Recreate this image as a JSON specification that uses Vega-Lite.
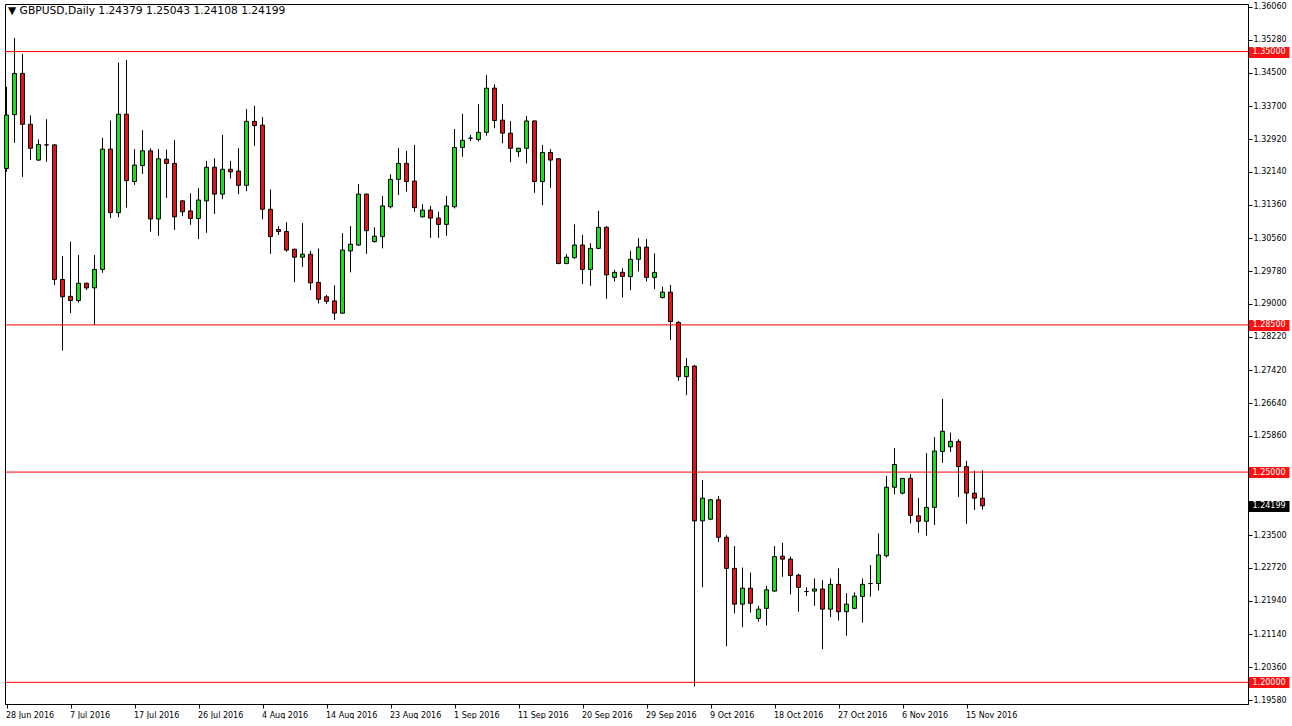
{
  "$schema": "https://vega.github.io/schema/vega-lite/v6.json",
  "width": 1243,
  "height": 700,
  "padding": {"left": 4, "top": 2, "right": 0, "bottom": 0},
  "background": "white",
  "config": {
    "view": {"stroke": "black", "strokeWidth": 1},
    "font": "DejaVu Sans",
    "axis": {"labelOverlap": false, "labelFlush": false, "grid": false, "title": null, "domainColor": "black", "labelFont": "DejaVu Sans", "labelFontSize": 8},
    "axisY": {"labelOverlap": false},
    "axisQuantitative": {"labelOverlap": false}
  },
  "title": {"text": "▼ GBPUSD,Daily  1.24379 1.25043 1.24108 1.24199", "anchor": "start", "frame": "group", "offset": -14, "dx": 3, "fontSize": 10.7, "fontWeight": "normal", "font": "DejaVu Sans", "color": "black"},
  "datasets": {
    "candles": [
      {"date": "28 Jun 2016", "open": 1.3222, "high": 1.3416, "low": 1.3214, "close": 1.3349},
      {"date": "29 Jun 2016", "open": 1.3350, "high": 1.3532, "low": 1.3283, "close": 1.3448},
      {"date": "30 Jun 2016", "open": 1.3448, "high": 1.3494, "low": 1.3202, "close": 1.3327},
      {"date": "1 Jul 2016", "open": 1.3327, "high": 1.3348, "low": 1.3242, "close": 1.3270},
      {"date": "3 Jul 2016", "open": 1.3242, "high": 1.3291, "low": 1.3240, "close": 1.3279},
      {"date": "4 Jul 2016", "open": 1.3278, "high": 1.3339, "low": 1.3238, "close": 1.3278},
      {"date": "5 Jul 2016", "open": 1.3278, "high": 1.3280, "low": 1.2945, "close": 1.2958},
      {"date": "6 Jul 2016", "open": 1.2958, "high": 1.3014, "low": 1.2789, "close": 1.2917},
      {"date": "7 Jul 2016", "open": 1.2918, "high": 1.3048, "low": 1.2878, "close": 1.2908},
      {"date": "8 Jul 2016", "open": 1.2908, "high": 1.3016, "low": 1.2903, "close": 1.2949},
      {"date": "10 Jul 2016", "open": 1.2949, "high": 1.2951, "low": 1.2933, "close": 1.2938},
      {"date": "11 Jul 2016", "open": 1.2938, "high": 1.3016, "low": 1.2850, "close": 1.2982},
      {"date": "12 Jul 2016", "open": 1.2982, "high": 1.3295, "low": 1.2974, "close": 1.3268},
      {"date": "13 Jul 2016", "open": 1.3268, "high": 1.3336, "low": 1.3104, "close": 1.3117},
      {"date": "14 Jul 2016", "open": 1.3117, "high": 1.3474, "low": 1.3106, "close": 1.3351},
      {"date": "15 Jul 2016", "open": 1.3351, "high": 1.3480, "low": 1.3129, "close": 1.3193},
      {"date": "17 Jul 2016", "open": 1.3191, "high": 1.3268, "low": 1.3183, "close": 1.3230},
      {"date": "18 Jul 2016", "open": 1.3229, "high": 1.3313, "low": 1.3209, "close": 1.3264},
      {"date": "19 Jul 2016", "open": 1.3264, "high": 1.3270, "low": 1.3072, "close": 1.3102},
      {"date": "20 Jul 2016", "open": 1.3102, "high": 1.3268, "low": 1.3062, "close": 1.3245},
      {"date": "21 Jul 2016", "open": 1.3244, "high": 1.3267, "low": 1.3152, "close": 1.3234},
      {"date": "22 Jul 2016", "open": 1.3234, "high": 1.3290, "low": 1.3076, "close": 1.3107},
      {"date": "24 Jul 2016", "open": 1.3145, "high": 1.3147, "low": 1.3109, "close": 1.3119},
      {"date": "25 Jul 2016", "open": 1.3121, "high": 1.3163, "low": 1.3088, "close": 1.3103},
      {"date": "26 Jul 2016", "open": 1.3103, "high": 1.3175, "low": 1.3054, "close": 1.3147},
      {"date": "27 Jul 2016", "open": 1.3145, "high": 1.3240, "low": 1.3069, "close": 1.3225},
      {"date": "28 Jul 2016", "open": 1.3225, "high": 1.3246, "low": 1.3114, "close": 1.3161},
      {"date": "29 Jul 2016", "open": 1.3161, "high": 1.3302, "low": 1.3149, "close": 1.3220},
      {"date": "31 Jul 2016", "open": 1.3220, "high": 1.3240, "low": 1.3198, "close": 1.3214},
      {"date": "1 Aug 2016", "open": 1.3216, "high": 1.3270, "low": 1.3161, "close": 1.3182},
      {"date": "2 Aug 2016", "open": 1.3182, "high": 1.3363, "low": 1.3168, "close": 1.3334},
      {"date": "3 Aug 2016", "open": 1.3334, "high": 1.3371, "low": 1.3276, "close": 1.3324},
      {"date": "4 Aug 2016", "open": 1.3325, "high": 1.3344, "low": 1.3101, "close": 1.3125},
      {"date": "5 Aug 2016", "open": 1.3125, "high": 1.3172, "low": 1.3019, "close": 1.3060},
      {"date": "7 Aug 2016", "open": 1.3077, "high": 1.3085, "low": 1.3064, "close": 1.3072},
      {"date": "8 Aug 2016", "open": 1.3072, "high": 1.3094, "low": 1.3024, "close": 1.3028},
      {"date": "9 Aug 2016", "open": 1.3030, "high": 1.3031, "low": 1.2952, "close": 1.3011},
      {"date": "10 Aug 2016", "open": 1.3011, "high": 1.3092, "low": 1.2988, "close": 1.3018},
      {"date": "11 Aug 2016", "open": 1.3018, "high": 1.3026, "low": 1.2933, "close": 1.2950},
      {"date": "12 Aug 2016", "open": 1.2951, "high": 1.3032, "low": 1.2901, "close": 1.2911},
      {"date": "14 Aug 2016", "open": 1.2917, "high": 1.2921, "low": 1.2900, "close": 1.2906},
      {"date": "15 Aug 2016", "open": 1.2907, "high": 1.2944, "low": 1.2862, "close": 1.2878},
      {"date": "16 Aug 2016", "open": 1.2878, "high": 1.3068, "low": 1.2876, "close": 1.3028},
      {"date": "17 Aug 2016", "open": 1.3026, "high": 1.3085, "low": 1.2975, "close": 1.3042},
      {"date": "18 Aug 2016", "open": 1.3040, "high": 1.3185, "low": 1.3038, "close": 1.3161},
      {"date": "19 Aug 2016", "open": 1.3161, "high": 1.3162, "low": 1.3019, "close": 1.3074},
      {"date": "21 Aug 2016", "open": 1.3048, "high": 1.3082, "low": 1.3046, "close": 1.3061},
      {"date": "22 Aug 2016", "open": 1.3060, "high": 1.3157, "low": 1.3032, "close": 1.3133},
      {"date": "23 Aug 2016", "open": 1.3131, "high": 1.3208, "low": 1.3127, "close": 1.3196},
      {"date": "24 Aug 2016", "open": 1.3196, "high": 1.3271, "low": 1.3159, "close": 1.3234},
      {"date": "25 Aug 2016", "open": 1.3234, "high": 1.3264, "low": 1.3167, "close": 1.3191},
      {"date": "26 Aug 2016", "open": 1.3192, "high": 1.3278, "low": 1.3119, "close": 1.3129},
      {"date": "28 Aug 2016", "open": 1.3107, "high": 1.3137, "low": 1.3105, "close": 1.3123},
      {"date": "29 Aug 2016", "open": 1.3123, "high": 1.3133, "low": 1.3057, "close": 1.3104},
      {"date": "30 Aug 2016", "open": 1.3104, "high": 1.3119, "low": 1.3057, "close": 1.3089},
      {"date": "31 Aug 2016", "open": 1.3089, "high": 1.3157, "low": 1.3062, "close": 1.3133},
      {"date": "1 Sep 2016", "open": 1.3131, "high": 1.3316, "low": 1.3127, "close": 1.3272},
      {"date": "2 Sep 2016", "open": 1.3272, "high": 1.3352, "low": 1.3250, "close": 1.3289},
      {"date": "4 Sep 2016", "open": 1.3294, "high": 1.3302, "low": 1.3287, "close": 1.3294},
      {"date": "5 Sep 2016", "open": 1.3291, "high": 1.3375, "low": 1.3286, "close": 1.3308},
      {"date": "6 Sep 2016", "open": 1.3308, "high": 1.3444, "low": 1.3300, "close": 1.3413},
      {"date": "7 Sep 2016", "open": 1.3413, "high": 1.3422, "low": 1.3318, "close": 1.3336},
      {"date": "8 Sep 2016", "open": 1.3337, "high": 1.3375, "low": 1.3282, "close": 1.3306},
      {"date": "9 Sep 2016", "open": 1.3306, "high": 1.3335, "low": 1.3237, "close": 1.3270},
      {"date": "11 Sep 2016", "open": 1.3262, "high": 1.3271, "low": 1.3250, "close": 1.3270},
      {"date": "12 Sep 2016", "open": 1.3270, "high": 1.3347, "low": 1.3234, "close": 1.3335},
      {"date": "13 Sep 2016", "open": 1.3335, "high": 1.3336, "low": 1.3164, "close": 1.3191},
      {"date": "14 Sep 2016", "open": 1.3191, "high": 1.3278, "low": 1.3135, "close": 1.3260},
      {"date": "15 Sep 2016", "open": 1.3260, "high": 1.3268, "low": 1.3176, "close": 1.3242},
      {"date": "16 Sep 2016", "open": 1.3245, "high": 1.3246, "low": 1.2994, "close": 1.2996},
      {"date": "18 Sep 2016", "open": 1.2996, "high": 1.3018, "low": 1.2994, "close": 1.3011},
      {"date": "19 Sep 2016", "open": 1.3010, "high": 1.3089, "low": 1.3007, "close": 1.3040},
      {"date": "20 Sep 2016", "open": 1.3040, "high": 1.3064, "low": 1.2947, "close": 1.2982},
      {"date": "21 Sep 2016", "open": 1.2982, "high": 1.3044, "low": 1.2943, "close": 1.3032},
      {"date": "22 Sep 2016", "open": 1.3032, "high": 1.3121, "low": 1.3030, "close": 1.3082},
      {"date": "23 Sep 2016", "open": 1.3082, "high": 1.3085, "low": 1.2912, "close": 1.2969},
      {"date": "25 Sep 2016", "open": 1.2963, "high": 1.2981, "low": 1.2953, "close": 1.2975},
      {"date": "26 Sep 2016", "open": 1.2975, "high": 1.2985, "low": 1.2915, "close": 1.2965},
      {"date": "27 Sep 2016", "open": 1.2965, "high": 1.3026, "low": 1.2933, "close": 1.3006},
      {"date": "28 Sep 2016", "open": 1.3006, "high": 1.3056, "low": 1.2977, "close": 1.3035},
      {"date": "29 Sep 2016", "open": 1.3035, "high": 1.3054, "low": 1.2953, "close": 1.2963},
      {"date": "30 Sep 2016", "open": 1.2963, "high": 1.3020, "low": 1.2935, "close": 1.2975},
      {"date": "2 Oct 2016", "open": 1.2915, "high": 1.2941, "low": 1.2913, "close": 1.2928},
      {"date": "3 Oct 2016", "open": 1.2928, "high": 1.2945, "low": 1.2814, "close": 1.2858},
      {"date": "4 Oct 2016", "open": 1.2856, "high": 1.2859, "low": 1.2717, "close": 1.2727},
      {"date": "5 Oct 2016", "open": 1.2727, "high": 1.2771, "low": 1.2683, "close": 1.2751},
      {"date": "6 Oct 2016", "open": 1.2752, "high": 1.2755, "low": 1.1990, "close": 1.2384},
      {"date": "7 Oct 2016", "open": 1.2384, "high": 1.2481, "low": 1.2226, "close": 1.2438},
      {"date": "9 Oct 2016", "open": 1.2388, "high": 1.2436, "low": 1.2386, "close": 1.2434},
      {"date": "10 Oct 2016", "open": 1.2434, "high": 1.2443, "low": 1.2334, "close": 1.2345},
      {"date": "11 Oct 2016", "open": 1.2345, "high": 1.2350, "low": 1.2086, "close": 1.2271},
      {"date": "12 Oct 2016", "open": 1.2271, "high": 1.2324, "low": 1.2164, "close": 1.2186},
      {"date": "13 Oct 2016", "open": 1.2186, "high": 1.2273, "low": 1.2131, "close": 1.2224},
      {"date": "14 Oct 2016", "open": 1.2224, "high": 1.2261, "low": 1.2166, "close": 1.2188},
      {"date": "16 Oct 2016", "open": 1.2152, "high": 1.2182, "low": 1.2144, "close": 1.2174},
      {"date": "17 Oct 2016", "open": 1.2176, "high": 1.2229, "low": 1.2135, "close": 1.2220},
      {"date": "18 Oct 2016", "open": 1.2217, "high": 1.2324, "low": 1.2215, "close": 1.2299},
      {"date": "19 Oct 2016", "open": 1.2300, "high": 1.2332, "low": 1.2251, "close": 1.2293},
      {"date": "20 Oct 2016", "open": 1.2293, "high": 1.2299, "low": 1.2209, "close": 1.2254},
      {"date": "21 Oct 2016", "open": 1.2255, "high": 1.2258, "low": 1.2168, "close": 1.2226},
      {"date": "23 Oct 2016", "open": 1.2216, "high": 1.2226, "low": 1.2205, "close": 1.2216},
      {"date": "24 Oct 2016", "open": 1.2217, "high": 1.2247, "low": 1.2182, "close": 1.2222},
      {"date": "25 Oct 2016", "open": 1.2222, "high": 1.2243, "low": 1.2079, "close": 1.2174},
      {"date": "26 Oct 2016", "open": 1.2174, "high": 1.2247, "low": 1.2155, "close": 1.2233},
      {"date": "27 Oct 2016", "open": 1.2233, "high": 1.2271, "low": 1.2147, "close": 1.2168},
      {"date": "28 Oct 2016", "open": 1.2168, "high": 1.2212, "low": 1.2111, "close": 1.2186},
      {"date": "30 Oct 2016", "open": 1.2176, "high": 1.2214, "low": 1.2174, "close": 1.2205},
      {"date": "31 Oct 2016", "open": 1.2204, "high": 1.2247, "low": 1.2142, "close": 1.2233},
      {"date": "1 Nov 2016", "open": 1.2235, "high": 1.2279, "low": 1.2204, "close": 1.2235},
      {"date": "2 Nov 2016", "open": 1.2235, "high": 1.2354, "low": 1.2218, "close": 1.2303},
      {"date": "3 Nov 2016", "open": 1.2301, "high": 1.2491, "low": 1.2297, "close": 1.2464},
      {"date": "4 Nov 2016", "open": 1.2464, "high": 1.2557, "low": 1.2447, "close": 1.2518},
      {"date": "6 Nov 2016", "open": 1.2450, "high": 1.2486, "low": 1.2447, "close": 1.2485},
      {"date": "7 Nov 2016", "open": 1.2485, "high": 1.2495, "low": 1.2378, "close": 1.2397},
      {"date": "8 Nov 2016", "open": 1.2396, "high": 1.2439, "low": 1.2356, "close": 1.2383},
      {"date": "9 Nov 2016", "open": 1.2383, "high": 1.2545, "low": 1.2349, "close": 1.2416},
      {"date": "10 Nov 2016", "open": 1.2416, "high": 1.2583, "low": 1.2374, "close": 1.2550},
      {"date": "11 Nov 2016", "open": 1.2549, "high": 1.2674, "low": 1.2522, "close": 1.2597},
      {"date": "13 Nov 2016", "open": 1.2560, "high": 1.2594, "low": 1.2548, "close": 1.2573},
      {"date": "14 Nov 2016", "open": 1.2573, "high": 1.2578, "low": 1.2441, "close": 1.2513},
      {"date": "15 Nov 2016", "open": 1.2513, "high": 1.2527, "low": 1.2377, "close": 1.2450},
      {"date": "16 Nov 2016", "open": 1.2450, "high": 1.2503, "low": 1.2410, "close": 1.2438},
      {"date": "17 Nov 2016", "open": 1.24379, "high": 1.25043, "low": 1.24108, "close": 1.24199}
    ],
    "levels": [
      {"level": 1.285}, {"level": 1.25}, {"level": 1.2}, {"level": 1.35}
    ]
  },
  "layer": [
    {
      "data": {"name": "candles"},
      "mark": {"type": "rule", "color": "black", "strokeWidth": 1},
      "encoding": {
        "x": {
          "field": "date", "type": "ordinal", "sort": null,
          "scale": {"type": "point", "range": [1.5, 977.5], "padding": 0},
          "axis": {
            "title": null,
            "values": ["28 Jun 2016", "7 Jul 2016", "17 Jul 2016", "26 Jul 2016", "4 Aug 2016", "14 Aug 2016", "23 Aug 2016", "1 Sep 2016", "11 Sep 2016", "20 Sep 2016", "29 Sep 2016", "9 Oct 2016", "18 Oct 2016", "27 Oct 2016", "6 Nov 2016", "15 Nov 2016"],
            "labelOverlap": false, "labelAngle": 0, "labelAlign": "left", "labelOffset": -1, "labelPadding": 3,
            "tickSize": 4, "tickColor": "black", "labelColor": "black"
          }
        },
        "y": {
          "field": "low", "type": "quantitative",
          "scale": {"domain": [1.19485, 1.36131], "nice": false, "zero": false},
          "axis": {
            "orient": "right", "title": null, "grid": false,
            "values": [1.3606, 1.3528, 1.345, 1.337, 1.3292, 1.3214, 1.3136, 1.3056, 1.2978, 1.29, 1.2822, 1.2742, 1.2664, 1.2586, 1.235, 1.2272, 1.2194, 1.2114, 1.2036, 1.1958, 1.35, 1.285, 1.25, 1.2, 1.24199],
            "format": ".5f", "labelOverlap": false,
            "tickColor": {"condition": {"test": "datum.value == 1.35 || datum.value == 1.285 || datum.value == 1.25 || datum.value == 1.2", "value": "#ff1010"}, "value": "black"},
            "tickWidth": {"condition": {"test": "datum.value == 1.35 || datum.value == 1.285 || datum.value == 1.25 || datum.value == 1.2 || datum.value == 1.24199", "value": 11}, "value": 1},
            "tickSize": {"condition": {"test": "datum.value == 1.35 || datum.value == 1.285 || datum.value == 1.25 || datum.value == 1.2 || datum.value == 1.24199", "value": 41}, "value": 4},
            "labelPadding": {"condition": {"test": "datum.value == 1.35 || datum.value == 1.285 || datum.value == 1.25 || datum.value == 1.2 || datum.value == 1.24199", "value": -37}, "value": 1},
            "labelColor": {"condition": {"test": "datum.value == 1.35 || datum.value == 1.285 || datum.value == 1.25 || datum.value == 1.2 || datum.value == 1.24199", "value": "white"}, "value": "black"}
          }
        },
        "y2": {"field": "high"}
      }
    },
    {
      "data": {"name": "candles"},
      "mark": {"type": "bar", "width": 4, "stroke": "black", "strokeWidth": 1},
      "encoding": {
        "x": {"field": "date", "type": "ordinal", "sort": null},
        "y": {
          "field": "open", "type": "quantitative",
          "axis": {
            "orient": "right", "title": null, "grid": false,
            "values": [1.3606, 1.3528, 1.345, 1.337, 1.3292, 1.3214, 1.3136, 1.3056, 1.2978, 1.29, 1.2822, 1.2742, 1.2664, 1.2586, 1.235, 1.2272, 1.2194, 1.2114, 1.2036, 1.1958, 1.35, 1.285, 1.25, 1.2, 1.24199],
            "format": ".5f", "labelOverlap": false,
            "tickColor": {"condition": {"test": "datum.value == 1.35 || datum.value == 1.285 || datum.value == 1.25 || datum.value == 1.2", "value": "#ff1010"}, "value": "black"},
            "tickWidth": {"condition": {"test": "datum.value == 1.35 || datum.value == 1.285 || datum.value == 1.25 || datum.value == 1.2 || datum.value == 1.24199", "value": 11}, "value": 1},
            "tickSize": {"condition": {"test": "datum.value == 1.35 || datum.value == 1.285 || datum.value == 1.25 || datum.value == 1.2 || datum.value == 1.24199", "value": 41}, "value": 4},
            "labelPadding": {"condition": {"test": "datum.value == 1.35 || datum.value == 1.285 || datum.value == 1.25 || datum.value == 1.2 || datum.value == 1.24199", "value": -37}, "value": 1},
            "labelColor": {"condition": {"test": "datum.value == 1.35 || datum.value == 1.285 || datum.value == 1.25 || datum.value == 1.2 || datum.value == 1.24199", "value": "white"}, "value": "black"}
          }
        },
        "y2": {"field": "close"},
        "fill": {"condition": {"test": "datum.close > datum.open", "value": "#16e016"}, "value": "#e01414"}
      }
    },
    {
      "data": {"name": "levels"},
      "mark": {"type": "rule", "color": "#ff0000", "strokeWidth": 1},
      "encoding": {
        "y": {
          "field": "level", "type": "quantitative",
          "axis": {
            "orient": "right", "title": null, "grid": false,
            "values": [1.3606, 1.3528, 1.345, 1.337, 1.3292, 1.3214, 1.3136, 1.3056, 1.2978, 1.29, 1.2822, 1.2742, 1.2664, 1.2586, 1.235, 1.2272, 1.2194, 1.2114, 1.2036, 1.1958, 1.35, 1.285, 1.25, 1.2, 1.24199],
            "format": ".5f", "labelOverlap": false,
            "tickColor": {"condition": {"test": "datum.value == 1.35 || datum.value == 1.285 || datum.value == 1.25 || datum.value == 1.2", "value": "#ff1010"}, "value": "black"},
            "tickWidth": {"condition": {"test": "datum.value == 1.35 || datum.value == 1.285 || datum.value == 1.25 || datum.value == 1.2 || datum.value == 1.24199", "value": 11}, "value": 1},
            "tickSize": {"condition": {"test": "datum.value == 1.35 || datum.value == 1.285 || datum.value == 1.25 || datum.value == 1.2 || datum.value == 1.24199", "value": 41}, "value": 4},
            "labelPadding": {"condition": {"test": "datum.value == 1.35 || datum.value == 1.285 || datum.value == 1.25 || datum.value == 1.2 || datum.value == 1.24199", "value": -37}, "value": 1},
            "labelColor": {"condition": {"test": "datum.value == 1.35 || datum.value == 1.285 || datum.value == 1.25 || datum.value == 1.2 || datum.value == 1.24199", "value": "white"}, "value": "black"}
          }
        }
      }
    }
  ]
}
